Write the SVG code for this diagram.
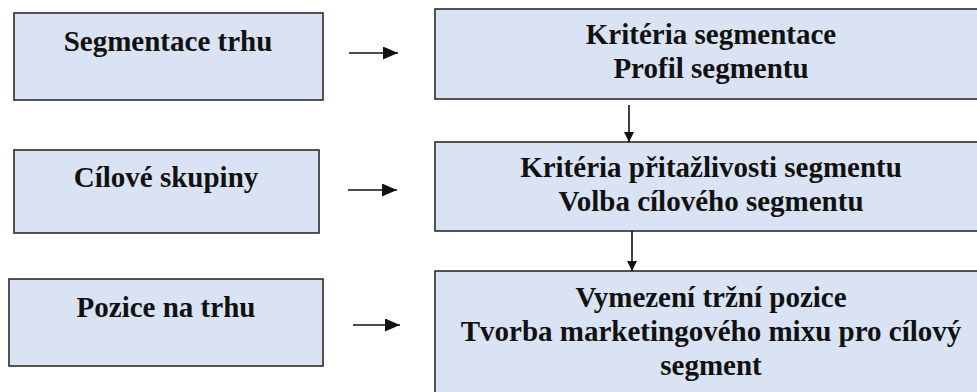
<svg xmlns="http://www.w3.org/2000/svg" width="977" height="392" viewBox="0 0 977 392">
  <style>
    .box { fill: #dae3f3; stroke: #2b2b2b; stroke-width: 1.6; }
    .t { font-weight: bold; font-size: 29px; fill: #111; text-anchor: middle; }
    .c { stroke: #111; stroke-width: 1.6; fill: none; }
  </style>
  <defs>
    <marker id="ah" viewBox="0 0 10 10" refX="10" refY="5" markerWidth="10" markerHeight="10" markerUnits="userSpaceOnUse" orient="auto">
      <path d="M0,0 L10,5 L0,10 Z" fill="#111"/>
    </marker>
    <marker id="ahl" viewBox="0 0 10 10" refX="10" refY="5" markerWidth="15" markerHeight="13" markerUnits="userSpaceOnUse" orient="auto" preserveAspectRatio="none">
      <path d="M0,0 L10,5 L0,10 Z" fill="#111"/>
    </marker>
  </defs>

  <g font-family="Liberation Serif, Times New Roman, serif">
    <g id="segmentace-trhu">
      <rect class="box" x="14" y="13" width="309" height="87"/>
      <text class="t" x="168" y="51">Segmentace trhu</text>
    </g>
    <g id="cilove-skupiny">
      <rect class="box" x="14" y="150" width="305" height="83"/>
      <text class="t" x="166" y="187">Cílové skupiny</text>
    </g>
    <g id="pozice-na-trhu">
      <rect class="box" x="9" y="279" width="314" height="87"/>
      <text class="t" x="166" y="317">Pozice na trhu</text>
    </g>

    <g id="kriteria-segmentace">
      <rect class="box" x="435" y="9" width="560" height="90"/>
      <text class="t" x="711" y="44">Kritéria segmentace</text>
      <text class="t" x="711" y="78">Profil segmentu</text>
    </g>
    <g id="kriteria-pritazlivosti">
      <rect class="box" x="435" y="142" width="560" height="89"/>
      <text class="t" x="711" y="177">Kritéria přitažlivosti segmentu</text>
      <text class="t" x="711" y="211">Volba cílového segmentu</text>
    </g>
    <g id="vymezeni-pozice">
      <rect class="box" x="435" y="271" width="560" height="140"/>
      <text class="t" x="711" y="307">Vymezení tržní pozice</text>
      <text class="t" x="711" y="341">Tvorba marketingového mixu pro cílový</text>
      <text class="t" x="711" y="375">segment</text>
    </g>
  </g>

  <g id="connectors">
    <line class="c" x1="349" y1="53" x2="398" y2="53" marker-end="url(#ahl)"/>
    <line class="c" x1="348" y1="190" x2="397" y2="190" marker-end="url(#ahl)"/>
    <line class="c" x1="353" y1="325" x2="400" y2="325" marker-end="url(#ahl)"/>
    <line class="c" x1="629" y1="105" x2="629" y2="142" marker-end="url(#ah)"/>
    <line class="c" x1="632" y1="231" x2="632" y2="271" marker-end="url(#ah)"/>
  </g>
</svg>
